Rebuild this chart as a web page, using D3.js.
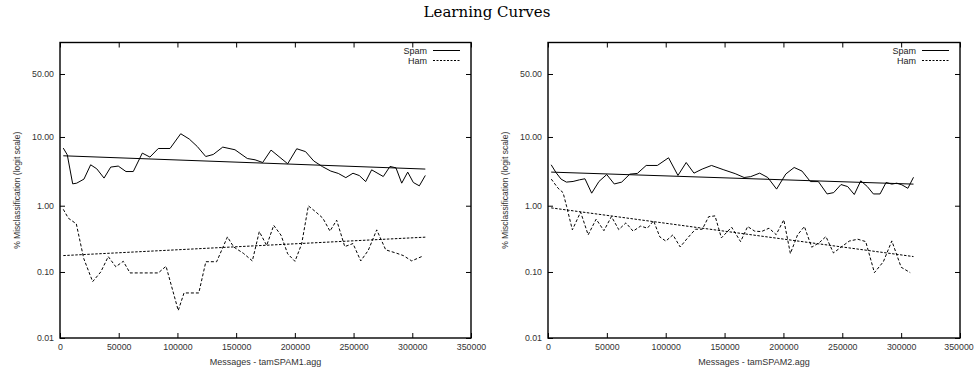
<!DOCTYPE html>
<html><head><meta charset="utf-8">
<script src="https://cdn.jsdelivr.net/npm/d3@7"></script>
<style>body{margin:0;background:#fff} svg{display:block}</style>
</head><body>
<svg id="c" width="974" height="368"></svg>
<script>
// ---------- data ----------
const chartTitle = "Learning Curves";
const yAxisTitle = "% Misclassification (logit scale)";
const xAxisTitles = ["Messages - tamSPAM1.agg", "Messages - tamSPAM2.agg"];
const seriesNames = ["Spam", "Ham"];
const xTickValues = [0, 50000, 100000, 150000, 200000, 250000, 300000, 350000];
const yTickValues = [0.01, 0.1, 1, 10, 50];
const yTickLabels = ["0.01", "0.10", "1.00", "10.00", "50.00"];

const spam1Msgs = [2800,6200,10800,14200,20400,26100,31300,37500,43200,49600,56200,62400,70100,76600,83700,93700,102800,110100,116900,124100,130500,138600,149000,159500,166100,172600,179700,193900,201600,209100,216100,223500,230600,237000,243400,249500,254900,260300,265400,275300,281000,286100,291000,296100,300900,306000,311100];
const spam1Pct = [7.01,5.63,2.12,2.17,2.49,4.04,3.53,2.58,3.74,3.87,3.22,3.22,5.95,5.22,6.92,6.92,11.06,9.36,7.38,5.32,5.69,7.24,6.64,4.98,4.77,4.36,6.57,4.18,6.86,6.25,4.59,3.80,3.27,3.02,2.62,3.04,2.81,2.29,3.41,2.72,3.82,3.65,2.17,3.16,2.22,1.98,2.82];
const ham1Msgs = [2800,7100,13900,20200,27800,34700,41100,47500,53900,59600,83700,90300,100700,105600,118200,124200,133400,142600,147900,156100,163800,169700,176000,182000,188200,193900,200100,205800,211500,217800,223800,229900,235600,242500,249500,256100,262500,269700,277400,286700,292400,299500,308000];
const ham1Pct = [0.882,0.650,0.533,0.160,0.0714,0.100,0.171,0.120,0.145,0.0967,0.0967,0.122,0.0261,0.0481,0.0481,0.143,0.143,0.339,0.239,0.192,0.147,0.407,0.252,0.506,0.360,0.188,0.145,0.266,0.995,0.808,0.650,0.415,0.606,0.242,0.269,0.147,0.212,0.433,0.216,0.192,0.177,0.147,0.171];
const spam1TrendMsgs = [2800, 311100];
const spam1TrendPct = [5.45, 3.50];
const ham1TrendMsgs = [2800, 311100];
const ham1TrendPct = [0.177, 0.336];

const spam2Msgs = [2700,6800,11100,15600,21300,26700,31400,37100,43300,49900,56300,62600,69500,75900,83400,92900,102400,110400,117400,124000,131000,138900,149400,159000,166600,172200,179800,186700,194200,202000,209100,215800,222900,229700,237100,242700,248900,254600,260200,265700,271300,276400,282100,287200,292100,296300,300600,305700,310500];
const spam2Pct = [4.04,3.11,2.49,2.25,2.30,2.43,2.52,1.54,2.30,2.91,2.11,2.25,2.95,3.02,3.95,3.95,5.10,2.82,4.36,3.05,3.50,3.95,3.41,3.00,2.63,2.71,3.05,2.63,1.77,2.96,3.69,3.27,2.29,2.29,1.50,1.57,2.07,1.93,1.47,2.35,1.93,1.50,1.50,2.22,2.10,2.17,2.05,1.82,2.65];
const ham2Msgs = [2800,8500,12800,15800,20700,27700,34100,40900,47500,53900,60100,66200,72300,78700,84400,89700,95000,100100,106100,112300,118700,125300,131100,136500,141900,147300,156000,163600,169600,175600,181300,187800,193800,200300,205900,212000,217800,224000,230300,236100,242500,248900,255900,263100,269900,277300,284900,292100,300000,307700];
const ham2Pct = [2.49,1.83,1.57,0.978,0.433,0.802,0.364,0.628,0.421,0.687,0.437,0.552,0.414,0.494,0.459,0.592,0.339,0.293,0.364,0.239,0.328,0.443,0.443,0.684,0.703,0.328,0.475,0.288,0.486,0.414,0.408,0.459,0.367,0.613,0.190,0.364,0.486,0.237,0.276,0.343,0.194,0.237,0.293,0.313,0.288,0.0977,0.143,0.295,0.118,0.0977];
const spam2TrendMsgs = [2700, 310500];
const spam2TrendPct = [3.16, 2.10];
const ham2TrendMsgs = [2700, 310500];
const ham2TrendPct = [0.928, 0.171];

// ---------- drawing ----------
const svg = d3.select('#c');
const logit = p => Math.log(p / (100 - p));
const zip = (a, b) => a.map((v, i) => [v, b[i]]);

svg.append('text')
  .attr('x', 487).attr('y', 17).attr('text-anchor', 'middle')
  .style('font-family', '"DejaVu Serif", serif').style('font-size', '15px')
  .text(chartTitle);

const panels = [
  {left: 60, right: 471, ylab: 20, xlab: xAxisTitles[0],
   spam: zip(spam1Msgs, spam1Pct), ham: zip(ham1Msgs, ham1Pct),
   spamT: zip(spam1TrendMsgs, spam1TrendPct), hamT: zip(ham1TrendMsgs, ham1TrendPct)},
  {left: 548, right: 960, ylab: 508, xlab: xAxisTitles[1],
   spam: zip(spam2Msgs, spam2Pct), ham: zip(ham2Msgs, ham2Pct),
   spamT: zip(spam2TrendMsgs, spam2TrendPct), hamT: zip(ham2TrendMsgs, ham2TrendPct)}
];
const plotTop = 42.5, plotBottom = 338;
const tickFont = '"Liberation Sans", Arial, sans-serif';

panels.forEach((p, pi) => {
  const g = svg.append('g');
  const x = d3.scaleLinear().domain([0, 350000]).range([p.left, p.right]);
  const y = d3.scaleLinear().domain([logit(0.01), logit(75)]).range([plotBottom, plotTop]);

  const style = sel => {
    sel.select('.domain').remove();
    sel.selectAll('.tick line').attr('stroke', '#000').attr('stroke-width', 1);
    sel.selectAll('.tick text').attr('fill', '#333')
      .style('font-family', tickFont).style('font-size', '8.8px');
  };
  const xb = g.append('g').attr('transform', `translate(0,${plotBottom})`)
    .call(d3.axisBottom(x).tickValues(xTickValues).tickFormat(d3.format('d')).tickSizeInner(-5).tickSizeOuter(0).tickPadding(6))
    .call(style);
  if (pi === 1) xb.selectAll('.tick text').filter(d => d === 350000).attr('dx', -1.5);
  g.append('g').attr('transform', `translate(0,${plotTop})`)
    .call(d3.axisTop(x).tickValues(xTickValues).tickFormat('').tickSizeInner(-5).tickSizeOuter(0))
    .call(style);
  const yt = yTickValues.map(v => logit(v));
  g.append('g').attr('transform', `translate(${p.left},0)`)
    .call(d3.axisLeft(y).tickValues(yt).tickFormat((d, i) => yTickLabels[i]).tickSizeInner(-5).tickSizeOuter(0).tickPadding(6))
    .call(style);
  g.append('g').attr('transform', `translate(${p.right},0)`)
    .call(d3.axisRight(y).tickValues(yt).tickFormat('').tickSizeInner(-5).tickSizeOuter(0))
    .call(style);

  g.append('rect').attr('x', p.left).attr('y', plotTop)
    .attr('width', p.right - p.left).attr('height', plotBottom - plotTop)
    .attr('fill', 'none').attr('stroke', '#000').attr('stroke-width', 1.4);

  const line = d3.line().x(d => x(d[0])).y(d => y(logit(d[1])));
  g.append('path').datum(p.spam).attr('d', line)
    .attr('fill', 'none').attr('stroke', '#000').attr('stroke-width', 1);
  g.append('path').datum(p.ham).attr('d', line)
    .attr('fill', 'none').attr('stroke', '#000').attr('stroke-width', 1).attr('stroke-dasharray', '3,2');
  g.append('path').datum(p.spamT).attr('d', line)
    .attr('fill', 'none').attr('stroke', '#000').attr('stroke-width', 1);
  g.append('path').datum(p.hamT).attr('d', line)
    .attr('fill', 'none').attr('stroke', '#000').attr('stroke-width', 1).attr('stroke-dasharray', '2.5,1.5');

  // axis titles
  g.append('text').attr('x', (p.left + p.right) / 2).attr('y', 365)
    .attr('text-anchor', 'middle').attr('fill', '#333')
    .style('font-family', tickFont).style('font-size', '9px').text(p.xlab);
  g.append('text').attr('transform', `translate(${p.ylab},${(plotTop + plotBottom) / 2}) rotate(-90)`)
    .attr('text-anchor', 'middle').attr('fill', '#333')
    .style('font-family', tickFont).style('font-size', '8.5px').text(yAxisTitle);

  // legend
  const lx = p.right - 44;
  [0, 1].forEach(i => {
    const ly = 53.5 + i * 10;
    g.append('text').attr('x', lx).attr('y', ly).attr('text-anchor', 'end').attr('fill', '#222')
      .style('font-family', tickFont).style('font-size', '9px').text(seriesNames[i]);
    g.append('line').attr('x1', p.right - 38).attr('x2', p.right - 11)
      .attr('y1', ly - 3).attr('y2', ly - 3)
      .attr('stroke', '#000').attr('stroke-width', 1)
      .attr('stroke-dasharray', i === 1 ? '2,1.5' : null);
  });
});
</script>
</body></html>
